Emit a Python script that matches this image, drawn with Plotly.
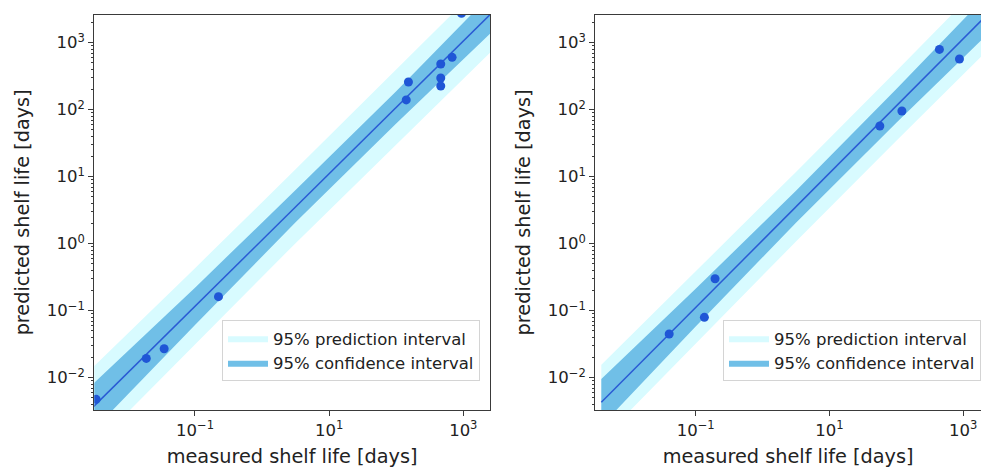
import plotly.graph_objects as go

# ---------------- data ----------------
left_measured = [152, 141, 461, 461, 461, 681, 940, 0.224, 0.0188, 0.0347, 0.00336]
left_predicted = [259, 140, 481, 297, 226, 605, 2750, 0.162, 0.0194, 0.0271, 0.00476]

left_band_x = [0.00251, 0.1, 3.16, 100, 3162]
left_conf_upper = [0.00676, 0.221, 6.31, 188, 6457]
left_conf_lower = [0.00135, 0.0610, 2.09, 62.4, 1698]
left_pred_upper = [0.0120, 0.432, 12.9, 385, 12300]
left_pred_lower = [0.000759, 0.0313, 1.02, 30.5, 891]
left_fit_x = [0.00251, 3162]
left_fit_y = [0.00303, 3311]

right_measured = [440, 877, 56.6, 121, 0.195, 0.135, 0.0402]
right_predicted = [794, 572, 57.2, 95.5, 0.30, 0.0796, 0.0449]

right_band_x = [0.00389, 0.1, 3.16, 100, 3162]
right_conf_upper = [0.00959, 0.212, 6.19, 203, 7278]
right_conf_lower = [0.00191, 0.0583, 2.05, 64.1, 1828]
right_pred_upper = [0.01556, 0.385, 11.8, 378, 12650]
right_pred_lower = [0.00118, 0.0321, 1.08, 34.4, 1052]
right_fit_x = [0.00389, 3162]
right_fit_y = [0.00429, 3648]

x_tick_vals = [0.1, 10, 1000]
x_tick_text = ["10<sup>\u22121</sup>", "10<sup>1</sup>", "10<sup>3</sup>"]
y_tick_vals = [0.01, 0.1, 1, 10, 100, 1000]
y_tick_text = ["10<sup>\u22122</sup>", "10<sup>\u22121</sup>", "10<sup>0</sup>",
               "10<sup>1</sup>", "10<sup>2</sup>", "10<sup>3</sup>"]

pred_label = "95% prediction interval"
conf_label = "95% confidence interval"
x_title = "measured shelf life [days]"
y_title = "predicted shelf life [days]"

# ---------------- styling ----------------
W, H = 981, 468
FONT = "DejaVu Sans"
LIGHT = "#d8fbff"
DARK = "#70bfe7"
POINT = "#1f56d6"
LINE = "#2a5bd4"
SPINE = "#3a3a3a"

minor_y = [m * 10.0 ** k for k in range(-4, 4) for m in range(2, 10)]

fig = go.Figure()


def add_panel(xa, ya, legend, bx, cu, cl, pu, pl, fx, fy, mx, my):
    fig.add_trace(go.Scatter(
        x=bx + bx[::-1], y=pu + pl[::-1], fill="toself", fillcolor=LIGHT,
        mode="lines", line=dict(width=0, color=LIGHT), name=pred_label,
        xaxis=xa, yaxis=ya, legend=legend, hoverinfo="skip"))
    fig.add_trace(go.Scatter(
        x=bx + bx[::-1], y=cu + cl[::-1], fill="toself", fillcolor=DARK,
        mode="lines", line=dict(width=0, color=DARK), name=conf_label,
        xaxis=xa, yaxis=ya, legend=legend, hoverinfo="skip"))
    fig.add_trace(go.Scatter(
        x=fx, y=fy, mode="lines", line=dict(color=LINE, width=1.5),
        showlegend=False, xaxis=xa, yaxis=ya))
    fig.add_trace(go.Scatter(
        x=mx, y=my, mode="markers", marker=dict(color=POINT, size=9),
        showlegend=False, xaxis=xa, yaxis=ya))


add_panel("x", "y", "legend", left_band_x, left_conf_upper, left_conf_lower,
          left_pred_upper, left_pred_lower, left_fit_x, left_fit_y,
          left_measured, left_predicted)
add_panel("x2", "y2", "legend2", right_band_x, right_conf_upper, right_conf_lower,
          right_pred_upper, right_pred_lower, right_fit_x, right_fit_y,
          right_measured, right_predicted)

tickfont = dict(family=FONT, size=16.5, color="#222")
titlefont = dict(family=FONT, size=19.3, color="#222")


def xaxis(domain, rng, anchor):
    return dict(type="log", domain=domain, range=rng, anchor=anchor,
                tickvals=x_tick_vals, ticktext=x_tick_text, tickfont=tickfont,
                ticks="outside", ticklen=5, tickwidth=1, tickcolor=SPINE,
                showline=True, linecolor=SPINE, linewidth=1.2, mirror=True,
                showgrid=False, zeroline=False,
                title=dict(text=x_title, font=titlefont, standoff=12))


def yaxis(domain, rng, anchor, mirror):
    return dict(type="log", domain=domain, range=rng, anchor=anchor,
                tickvals=y_tick_vals, ticktext=y_tick_text, tickfont=tickfont,
                ticks="outside", ticklen=5, tickwidth=1, tickcolor=SPINE,
                minor=dict(tickvals=minor_y, ticks="outside", ticklen=2.5,
                           tickwidth=0.8, tickcolor=SPINE, showgrid=False),
                showline=True, linecolor=SPINE, linewidth=1.2, mirror=mirror,
                showgrid=False, zeroline=False,
                title=dict(text=y_title, font=titlefont, standoff=12))


ydom = [1 - 410 / H, 1 - 14.7 / H]
legend_style = dict(font=dict(family=FONT, size=16.5, color="#222"),
                    bgcolor="rgba(255,255,255,0.85)", bordercolor="#d4d4d4",
                    borderwidth=1, xanchor="left", yanchor="top",
                    itemwidth=40, tracegroupgap=0)

fig.update_layout(
    width=W, height=H, margin=dict(l=0, r=0, t=0, b=0),
    paper_bgcolor="white", plot_bgcolor="white",
    xaxis=xaxis([94.3 / W, 490 / W], [-2.501, 3.398], "y"),
    yaxis=yaxis(ydom, [-2.482, 3.418], "x", True),
    xaxis2=xaxis([595.3 / W, 1.0], [-2.50, 3.265], "y2"),
    yaxis2=yaxis(ydom, [-2.482, 3.418], "x2", False),
    legend=dict(x=222 / W, y=1 - 320 / H, **legend_style),
    legend2=dict(x=723.3 / W, y=1 - 320 / H, **legend_style),
    showlegend=True,
)

fig.write_html("out.html")
